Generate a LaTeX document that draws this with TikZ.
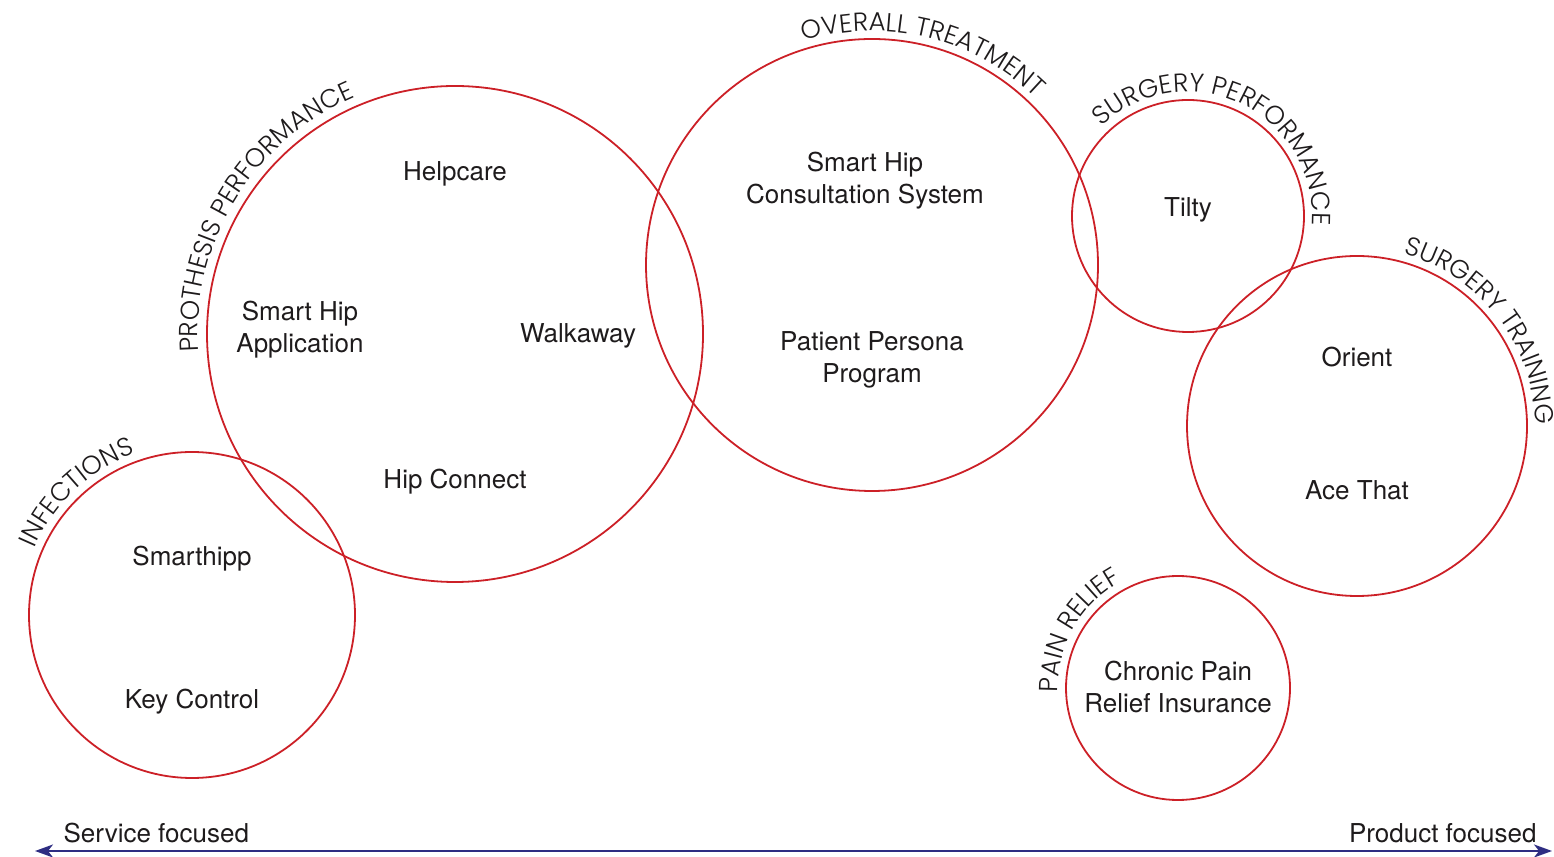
\documentclass[tikz,border=0pt]{standalone}
\usepackage{fontspec}
\setmainfont{TeX Gyre Heros}
\newfontfamily\arcfont{Poppins Light}
\usetikzlibrary{decorations.text,arrows.meta}
\definecolor{ringred}{RGB}{204,32,39}
\definecolor{axisblue}{RGB}{46,45,130}
\definecolor{ink}{RGB}{30,27,28}
\newcommand{\arcfmt}{\arcfont\fontsize{26}{26}\selectfont\color{ink}}
\tikzset{
  ring/.style={circle, draw=ringred, line width=1.8pt, inner sep=0pt},
  item/.style={align=center, font=\fontsize{26}{32}\selectfont, text=ink},
  arclabel/.style={decorate, decoration={text along path, text={|\arcfmt|#1}}},
}
\begin{document}
\begin{tikzpicture}[x=1pt,y=1pt]
\useasboundingbox (0,0) rectangle (1554,856);

% circles
\node[ring, minimum size=496pt] (pp)  at (455,522)  {};
\node[ring, minimum size=452pt] (ot)  at (872,591)  {};
\node[ring, minimum size=232pt] (sp)  at (1188,640) {};
\node[ring, minimum size=340pt] (st)  at (1357,430) {};
\node[ring, minimum size=326pt] (inf) at (192,241)  {};
\node[ring, minimum size=224pt] (pr)  at (1178,168) {};

% curved headings
\path[arclabel={PROTHESIS PERFORMANCE}] (pp.center) ++(184:257) arc[start angle=184, end angle=60, radius=257];
\path[arclabel={OVERALL TREATMENT}] (ot.center) ++(107:234) arc[start angle=107, end angle=0, radius=234];
\path[arclabel={SURGERY PERFORMANCE}] (sp.center) ++(134:124) arc[start angle=134, end angle=-90, radius=124];
\path[arclabel={SURGERY TRAINING}] (st.center) ++(75:178) arc[start angle=75, end angle=-60, radius=178];
\path[arclabel={INFECTIONS}] (inf.center) ++(157:171) arc[start angle=157, end angle=60, radius=171];
\path[arclabel={PAIN RELIEF}] (pr.center) ++(182:120) arc[start angle=182, end angle=60, radius=120];

% entries
\node[item] (helpcare) at (455,682) {Helpcare};
\node[item] (sha)      at (300,526) {Smart Hip\\Application};
\node[item] (walk)     at (578,520) {Walkaway};
\node[item] (hipc)     at (455,374) {Hip Connect};
\node[item] (smarth)   at (192,297) {Smarthipp};
\node[item] (keyc)     at (192,154) {Key Control};
\node[item] (shcs)     at (865,675) {Smart Hip\\Consultation System};
\node[item] (ppp)      at (872,496) {Patient Persona\\Program};
\node[item] (tilty)    at (1188,646) {Tilty};
\node[item] (orient)   at (1357,499) {Orient};
\node[item] (ace)      at (1357,366) {Ace That};
\node[item] (cpri)     at (1178,169) {Chronic Pain\\Relief Insurance};

% axis
\node[item, anchor=west] (svc)  at (60,23)   {Service focused};
\node[item, anchor=east] (prod) at (1540,23) {Product focused};
\coordinate (axl) at (35,5);
\coordinate (axr) at (1552,5);
\draw[axisblue, line width=2pt, {Stealth[length=18pt,width=13pt,inset=5pt]}-{Stealth[length=18pt,width=13pt,inset=5pt]}] (axl) -- (axr);
\end{tikzpicture}
\end{document}
